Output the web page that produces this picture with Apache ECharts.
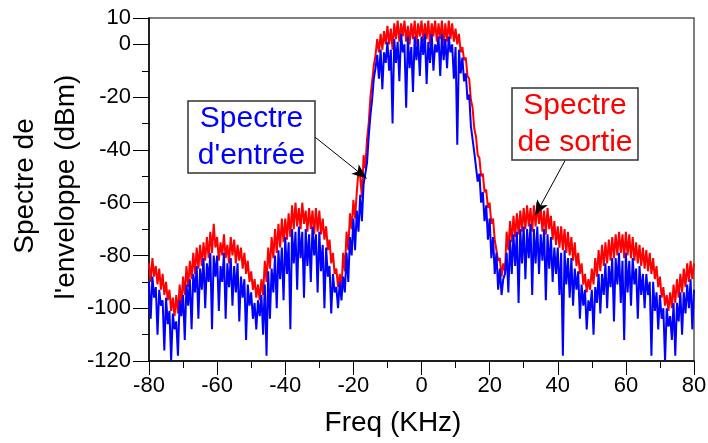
<!DOCTYPE html>
<html lang="fr">
<head>
	<meta charset="UTF-8">
	<title>Spectre de l'enveloppe</title>
	<style type="text/css">
	body,html{
		width: 100%;
		height: 100%;
		margin: 0;
		padding: 0;
		background: #fff;
	}
	#chart{
		width: 708px;
		height: 443px;
	}
	</style>
</head>
<body>
<div id="chart"></div>
<script type="text/javascript" src="https://cdn.jsdelivr.net/npm/echarts@6.0.0/dist/echarts.min.js"></script>
<script type="text/javascript">
	// axe des frequences : de -80 a 80 kHz par pas de 0.5
	var freqMin = -80;
	var freqStep = 0.5;
	var xTicks = [-80, -60, -40, -20, 0, 20, 40, 60, 80];
	var yTicks = [10, 0, -20, -40, -60, -80, -100, -120];

	// spectre de sortie (rouge), dBm
	var sortie = [
		-83,-90,-81,-88,-84,-91,-85,-93,-87,-95, -90,-97,-93,-101,-96,-103,-95,-102,-91,-99,
		-88,-95,-84,-92,-82,-89,-79,-87,-77,-85, -76,-84,-75,-82,-73,-81,-71,-79,-68,-77,
		-73,-82,-75,-80,-72,-81,-76,-83,-73,-80, -74,-83,-76,-82,-77,-85,-79,-87,-82,-90,
		-86,-93,-89,-96,-91,-97,-89,-95,-82,-90, -77,-85,-73,-81,-70,-79,-68,-77,-66,-75,
		-66,-74,-64,-73,-61,-70,-60,-69,-62,-70, -60,-68,-63,-71,-62,-70,-63,-72,-62,-71,
		-63,-72,-66,-74,-69,-78,-74,-83,-79,-87, -85,-92,-87,-93,-79,-86,-71,-78,-64,-70,
		-59,-66,-56,-48,-50,-58,-42,-47,-36,-30, -20,-14,-8,-4,2,-3,4,-2,5,0,
		7,0,6,-2,8,2,9,1,8,3, 9,1,7,0,8,2,9,0,8,3,
		9,1,8,2,9,0,8,3,9,1, 8,2,9,0,8,1,9,2,8,1,
		6,0,4,-3,-1,-6,-5,-12,-13,-21, -24,-32,-35,-42,-43,-50,-49,-56,-55,-62,
		-60,-68,-66,-74,-74,-82,-81,-88,-83,-86, -71,-78,-67,-75,-65,-73,-64,-72,-63,-71,
		-62,-70,-61,-69,-62,-71,-61,-69,-60,-68, -62,-71,-63,-72,-62,-70,-65,-74,-67,-76,
		-69,-77,-69,-78,-70,-79,-71,-80,-73,-82, -75,-84,-79,-87,-83,-91,-87,-94,-89,-93,
		-85,-91,-81,-88,-78,-86,-76,-84,-75,-83, -74,-82,-73,-81,-72,-80,-71,-79,-72,-81,
		-71,-80,-72,-81,-73,-82,-75,-83,-76,-84, -77,-85,-78,-86,-79,-87,-81,-89,-84,-92,
		-88,-96,-92,-99,-95,-101,-94,-100,-91,-98, -89,-96,-87,-94,-85,-92,-83,-90,-82,-89,
		-83
	];

	// spectre d'entree (bleu), dBm
	var entree = [
		-90,-104,-88,-96,-92,-110,-93,-99,-97,-116, -96,-106,-101,-120,-102,-108,-105,-118,-97,-103,
		-95,-112,-91,-99,-89,-108,-87,-94,-84,-104, -85,-93,-81,-100,-83,-90,-79,-108,-80,-88,
		-80,-101,-84,-90,-79,-104,-83,-92,-81,-99, -84,-94,-83,-105,-88,-96,-89,-112,-91,-99,
		-94,-104,-98,-108,-97,-103,-95,-110,-91,-118, -86,-104,-85,-94,-80,-100,-78,-89,-77,-97,
		-73,-87,-75,-108,-70,-83,-71,-93,-69,-81, -71,-96,-70,-84,-72,-90,-69,-80,-72,-94,
		-71,-86,-76,-100,-77,-88,-84,-102,-87,-94, -92,-100,-90,-97,-88,-94,-79,-90,-73,-80,
		-66,-78,-63,-71,-57,-67,-53,-49,-45,-35, -27,-21,-13,-9,-4,-13,-2,-17,-3,-7,
		1,-10,-2,-30,2,-7,1,-14,4,-3, 0,-24,3,-9,-1,-18,3,-6,2,-12,
		3,-4,4,-15,1,-7,4,-10,0,-3, 3,-12,4,-6,2,-9,3,-3,0,-13,
		-1,-38,-2,-11,-5,-14,-11,-21,-19,-31, -31,-41,-41,-52,-49,-60,-56,-67,-61,-74,
		-66,-81,-73,-87,-79,-93,-85,-95,-89,-87, -79,-94,-74,-87,-72,-84,-71,-98,-70,-83,
		-69,-89,-70,-81,-68,-95,-70,-83,-69,-87, -72,-82,-70,-97,-72,-85,-73,-90,-77,-87,
		-77,-95,-79,-118,-78,-91,-81,-96,-81,-99, -85,-93,-86,-104,-91,-99,-93,-108,-97,-101,
		-93,-110,-92,-98,-87,-102,-87,-95,-83,-100, -84,-92,-81,-105,-81,-91,-79,-98,-82,-112,
		-79,-94,-82,-99,-81,-91,-85,-104,-84,-95, -87,-100,-87,-95,-90,-118,-90,-101,-94,-108,
		-95,-104,-100,-120,-100,-107,-103,-112,-98,-118, -98,-105,-94,-110,-94,-102,-91,-100,-89,-108,
		-93
	];

	// fleches des etiquettes (kHz, dBm)
	var arrowEntree = [[-31.3, -35.1], [-16.1, -50.8]];
	var arrowSortie = [[42.2, -43.9], [33.4, -64.8]];

	var FONT = '"Liberation Sans", Arial, sans-serif';

	function toPairs(vals){
		return vals.map(function(v, i){ return [freqMin + i * freqStep, v]; });
	}

	var chart = echarts.init(document.getElementById('chart'));

	var option = {
		animation: false,
		backgroundColor: '#fff',
		grid: {
			left: 149, right: 14, top: 18, bottom: 82,
			show: true, borderColor: '#555', borderWidth: 1.5,
			outerBoundsMode: 'none'
		},
		xAxis: [{
			type: 'value', min: -80, max: 80, interval: 10,
			axisLine: { onZero: false, lineStyle: { color: '#000', width: 1.5 } },
			axisTick: { length: 7, lineStyle: { color: '#000', width: 1 } },
			axisLabel: { show: false },
			splitLine: { show: false }
		}, {
			type: 'value', position: 'bottom', min: -80, max: 80, interval: 20,
			axisLine: { show: false, onZero: false },
			axisTick: { length: 14, lineStyle: { color: '#000', width: 1 } },
			axisLabel: {
				margin: 14, color: '#000', fontSize: 22, fontFamily: FONT,
				formatter: function(v){ return xTicks.indexOf(v) >= 0 ? String(v) : ''; }
			},
			splitLine: { show: false }
		}],
		yAxis: [{
			type: 'value', min: -120, max: 10, interval: 10,
			axisLine: { onZero: false, lineStyle: { color: '#000', width: 1.5 } },
			axisTick: { length: 7, lineStyle: { color: '#000', width: 1 } },
			axisLabel: { show: false },
			splitLine: { show: false }
		}, {
			type: 'value', position: 'left', min: -120, max: 10, interval: 20,
			axisLine: { show: false, onZero: false },
			axisTick: { length: 16, lineStyle: { color: '#000', width: 1 } },
			axisLabel: {
				margin: 18, color: '#000', fontSize: 22, fontFamily: FONT,
				formatter: function(v){ return yTicks.indexOf(v) >= 0 ? String(v) : ''; }
			},
			splitLine: { show: false }
		}],
		series: [{
			name: 'Spectre de sortie',
			type: 'line',
			data: toPairs(sortie),
			showSymbol: false,
			symbol: 'none',
			lineStyle: { color: '#ff0000', width: 2 },
			z: 2
		}, {
			name: "Spectre d'entrée",
			type: 'line',
			data: toPairs(entree),
			showSymbol: false,
			symbol: 'none',
			lineStyle: { color: '#0000ff', width: 2 },
			z: 3,
			markLine: {
				silent: true,
				animation: false,
				symbol: ['none', 'arrow'],
				symbolSize: [9, 15],
				label: { show: false },
				lineStyle: { color: '#000', width: 1, type: 'solid' },
				itemStyle: { color: '#000' },
				emphasis: { disabled: true },
				data: [
					[{ coord: arrowEntree[0] }, { coord: arrowEntree[1] }],
					[{ coord: arrowSortie[0] }, { coord: arrowSortie[1] }]
				]
			}
		}],
		graphic: [
			{
				type: 'text', x: 393, y: 423, z: 100,
				style: {
					text: 'Freq (KHz)', fill: '#000',
					font: '28px ' + FONT,
					textAlign: 'center', textVerticalAlign: 'middle'
				}
			},
			{
				type: 'text', x: 25, y: 186, rotation: Math.PI / 2, z: 100,
				style: {
					text: 'Spectre de', fill: '#000',
					font: '28px ' + FONT,
					textAlign: 'center', textVerticalAlign: 'middle'
				}
			},
			{
				type: 'text', x: 66, y: 187, rotation: Math.PI / 2, z: 100,
				style: {
					text: "l'enveloppe (dBm)", fill: '#000',
					font: '28px ' + FONT,
					textAlign: 'center', textVerticalAlign: 'middle'
				}
			},
			{
				type: 'rect', z: 100,
				shape: { x: 188, y: 101, width: 127, height: 72 },
				style: { fill: '#fff', stroke: '#333', lineWidth: 1.5 }
			},
			{
				type: 'text', x: 251.5, y: 137, z: 101,
				style: {
					text: "Spectre\nd'entrée", fill: '#0000ff',
					font: '30px ' + FONT, lineHeight: 37,
					textAlign: 'center', textVerticalAlign: 'middle'
				}
			},
			{
				type: 'rect', z: 100,
				shape: { x: 512, y: 88, width: 126, height: 72 },
				style: { fill: '#fff', stroke: '#333', lineWidth: 1.5 }
			},
			{
				type: 'text', x: 575, y: 124, z: 101,
				style: {
					text: 'Spectre\nde sortie', fill: '#ff0000',
					font: '30px ' + FONT, lineHeight: 37,
					textAlign: 'center', textVerticalAlign: 'middle'
				}
			}
		]
	};

	chart.setOption(option, true);
	window.addEventListener('resize', function(){
		chart.resize();
	});
</script>
</body>
</html>
